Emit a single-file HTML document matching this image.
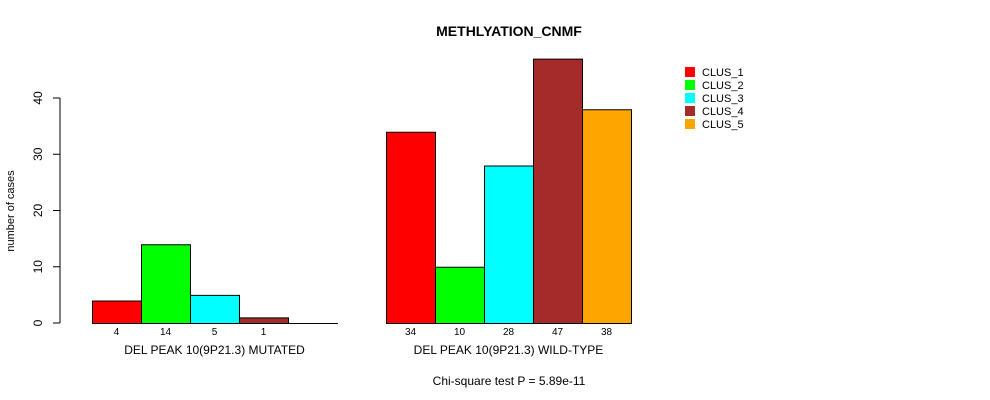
<!DOCTYPE html>
<html><head><meta charset="utf-8"><style>body{margin:0;background:#fff}svg{display:block;font-family:"Liberation Sans",sans-serif}</style></head>
<body>
<svg id="c" width="990" height="400">
<text x="509" y="36" text-anchor="middle" font-size="14" font-weight="bold">METHLYATION_CNMF</text>
<text transform="translate(14,211) rotate(-90)" text-anchor="middle" font-size="11">number of cases</text>
<text x="509" y="385" text-anchor="middle" font-size="12">Chi-square test P = 5.89e-11</text>
</svg>
<script>
const groups=["DEL PEAK 10(9P21.3) MUTATED","DEL PEAK 10(9P21.3) WILD-TYPE"];
const series=["CLUS_1","CLUS_2","CLUS_3","CLUS_4","CLUS_5"];
const mutated=[4,14,5,1,0];
const wildtype=[34,10,28,47,38];
const yTicks=[0,10,20,30,40];
const colors=["#ff0000","#00ff00","#00ffff","#a52a2a","#ffa500"];
const svg=document.getElementById('c');const NS="http://www.w3.org/2000/svg";
function y(v){return 323-v*5.625;}
function mk(t,a){const e=document.createElementNS(NS,t);for(const k in a)e.setAttribute(k,a[k]);svg.appendChild(e);return e;}
const ax=mk('line',{x1:60,x2:60,y1:y(0),y2:y(40),stroke:'#000'});


yTicks.forEach(t=>{
 const l=mk('line',{x1:53,x2:60,y1:y(t),y2:y(t),stroke:'#000'});
 
 
 const tx=mk('text',{transform:`translate(42,${y(t)}) rotate(-90)`,'text-anchor':'middle','font-size':12});
 tx.textContent=t;
 
 
});
const starts=[92,386];const bw=49;
[mutated,wildtype].forEach((vals,g)=>{
 vals.forEach((v,i)=>{
  const x=starts[g]+i*bw;
  if(v>0){
   const r=mk('rect',{x:x+0.5,y:y(v)+0.5,width:bw,height:y(0)-y(v),fill:colors[i],stroke:'#000'});
   
   
   const t=mk('text',{x:x+bw/2,y:335,'text-anchor':'middle','font-size':10});
   t.textContent=v;
   
   
  } else {
   const l=mk('line',{x1:x,x2:x+bw+1,y1:y(0)+0.5,y2:y(0)+0.5,stroke:'#000'});
   
   
  }
 });
 const gl=mk('text',{x:starts[g]+bw*2.5,y:354,'text-anchor':'middle','font-size':12});
 gl.textContent=groups[g];
 
 
});
series.forEach((s,i)=>{
 const r=mk('rect',{x:685,y:67+i*13,width:10,height:10,fill:colors[i]});
 
 
 const t=mk('text',{x:702,y:76+i*13,'font-size':11});
 t.textContent=s;
 
 
});
</script>
</body></html>
